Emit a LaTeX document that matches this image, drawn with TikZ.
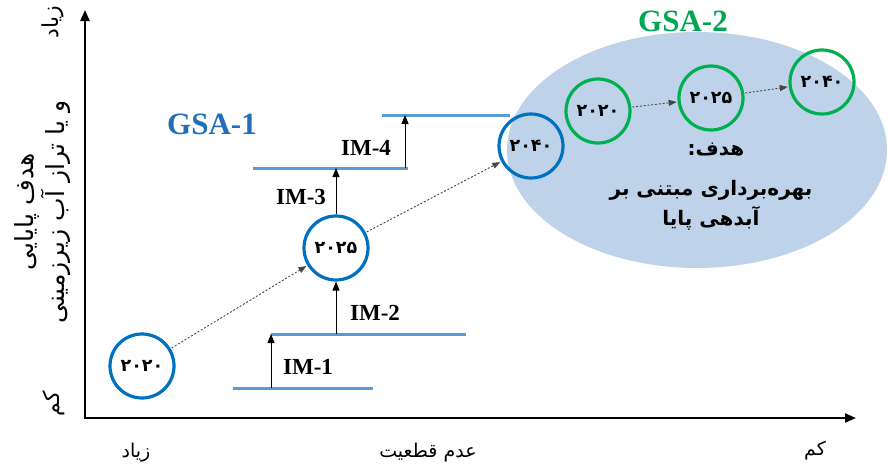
\documentclass[tikz,border=0pt]{standalone}
\usepackage{fontspec}
\setmainfont{Liberation Serif}
\newfontfamily\fa[Script=Arabic]{DejaVu Sans}
\TeXXeTstate=1
\usetikzlibrary{arrows.meta,shapes.geometric}
\definecolor{cblue}{RGB}{0,112,192}
\definecolor{lblue}{RGB}{91,155,213}
\definecolor{tblue}{RGB}{36,110,185}
\definecolor{cgreen}{RGB}{0,176,80}
\definecolor{tgreen}{RGB}{0,166,81}
\definecolor{ellfill}{RGB}{190,211,234}
\definecolor{dotgray}{RGB}{70,70,70}
\begin{document}
\begin{tikzpicture}[x=1pt,y=-1pt,
  yearb/.style={circle,draw=cblue,line width=3.2pt,minimum size=64pt,inner sep=0pt,
    font=\fa\bfseries\fontsize{17.5}{17.5}\selectfont},
  yearg/.style={yearb,draw=cgreen},
  stepline/.style={draw=lblue,line width=3pt},
  imarrow/.style={-{Triangle[length=9pt,width=7pt]},line width=0.8pt},
  imlabel/.style={font=\bfseries\fontsize{23}{23}\selectfont},
  gsalabel/.style={font=\bfseries\fontsize{31}{31}\selectfont},
  dotarrow/.style={-{Triangle[length=8pt,width=6pt]},dotgray,line width=0.9pt,
    dash pattern=on 2pt off 1.8pt,shorten >=1pt,shorten <=1pt},
  axisline/.style={line width=2.2pt,-{Triangle[length=11pt,width=9pt]}},
  axlabel/.style={font=\fa\fontsize{19}{30}\selectfont,inner sep=0pt},
  ytitlestyle/.style={font=\fa\fontsize{25}{31}\selectfont,inner sep=0pt},
  goaltext/.style={font=\fa\bfseries\fontsize{20}{20}\selectfont,inner sep=0pt}
]
\useasboundingbox (0,0) rectangle (888,469);

% ellipse background
\node[ellipse,fill=ellfill,minimum width=380pt,minimum height=236pt,inner sep=0pt] (ell) at (697,150) {};

% axes
\coordinate (O) at (85,418);
\coordinate (Ytop) at (85,10);
\coordinate (Xend) at (856,418);
\draw[axisline] (O) -- (Ytop);
\draw[axisline] ([xshift=-1.1pt]O) -- (Xend);

% axis labels
\node[axlabel,font=\fa\fontsize{22}{22}\selectfont,rotate=90] (ymax) at (53,22) {\beginR زیاد\endR};
\node[axlabel,font=\fa\fontsize{22}{22}\selectfont,rotate=90] (ymin) at (54,404) {\beginR کم\endR};
\node[ytitlestyle,rotate=90,align=center] (ytitle) at (43,212)
  {\beginR هدف پایایی\endR\\\beginR و یا تراز آب زیرزمینی\endR};
\node[axlabel] (xmax) at (136,453) {\beginR زیاد\endR};
\node[axlabel] (xtitle) at (428,453) {\beginR عدم قطعیت\endR};
\node[axlabel] (xmin) at (815,451) {\beginR کم\endR};

% step lines
\coordinate (s1a) at (233,388); \coordinate (s1b) at (373,388);
\coordinate (s2a) at (271,334); \coordinate (s2b) at (466,334);
\coordinate (s3a) at (253,168); \coordinate (s3b) at (408,168);
\coordinate (s4a) at (382,115); \coordinate (s4b) at (510,115);
\draw[stepline] (s1a) -- (s1b);
\draw[stepline] (s2a) -- (s2b);
\draw[stepline] (s3a) -- (s3b);
\draw[stepline] (s4a) -- (s4b);

% blue circles
\node[yearb] (c1) at (142,366) {۲۰۲۰};
\node[yearb] (c2) at (336,248) {۲۰۲۵};
\node[yearb] (c3) at (531,146) {۲۰۴۰};

% IM arrows
\coordinate (a1s) at (271,388);
\coordinate (a2s) at (336,334);
\coordinate (a3e) at (336,168);
\coordinate (a4s) at (405,168);
\coordinate (a4e) at (405,115);
\draw[imarrow] (a1s) -- (s2a);
\draw[imarrow] (a2s) -- (c2.south);
\draw[imarrow] (c2.north) -- (a3e);
\draw[imarrow] (a4s) -- (a4e);

\node[imlabel] (im1) at (308,367) {IM-1};
\node[imlabel] (im2) at (375,313) {IM-2};
\node[imlabel] (im3) at (301,197) {IM-3};
\node[imlabel] (im4) at (366,148) {IM-4};

% dotted arrows blue
\draw[dotarrow] (c1) -- (c2);
\draw[dotarrow] (c2) -- (c3);

% green circles
\node[yearg] (g1) at (598,111) {۲۰۲۰};
\node[yearg] (g2) at (711,98) {۲۰۲۵};
\node[yearg] (g3) at (822,82) {۲۰۴۰};
\draw[dotarrow] (g1) -- (g2);
\draw[dotarrow] (g2) -- (g3);

% labels
\node[gsalabel,text=tblue] (gsa1) at (212,124) {GSA-1};
\node[gsalabel,text=tgreen] (gsa2) at (683,21) {GSA-2};

% goal text
\node[goaltext] (goal1) at (716,150) {\beginR هدف:\endR};
\node[goaltext] (goal2) at (711,190) {\beginR بهره‌برداری مبتنی بر\endR};
\node[goaltext] (goal3) at (711,218) {\beginR آبدهی پایا\endR};
\end{tikzpicture}
\end{document}
